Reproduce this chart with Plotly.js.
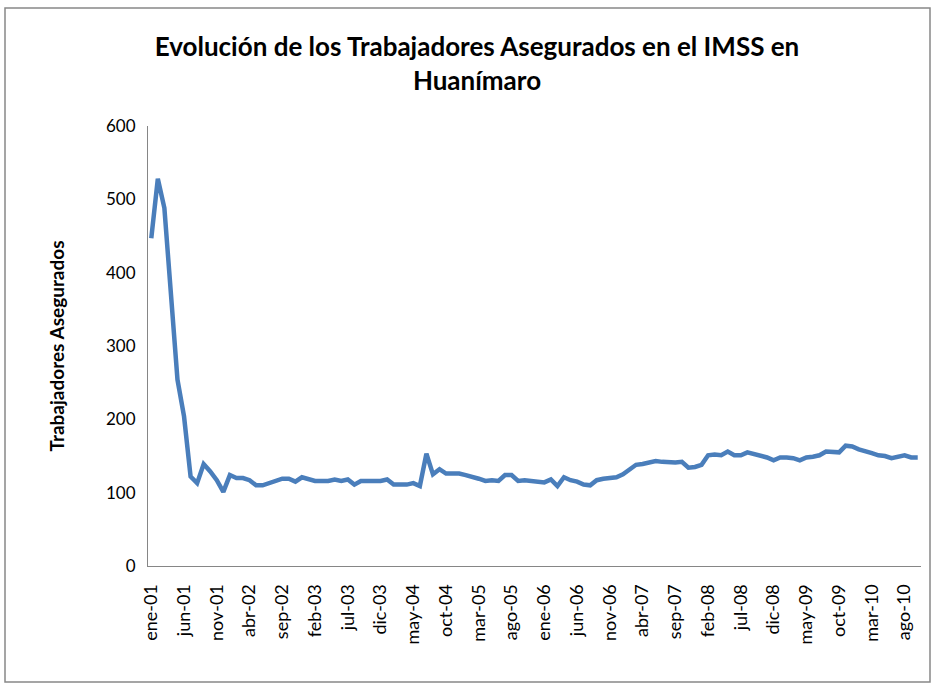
<!DOCTYPE html>
<html>
<head>
<meta charset="utf-8">
<script src="https://cdn.plot.ly/plotly-3.0.1.min.js"></script>
<style>
html,body{margin:0;padding:0;background:#fff;}
#chart{width:936px;height:686px;}
</style>
</head>
<body>
<div id="chart"></div>
<script>
var monthNames = ["ene","feb","mar","abr","may","jun","jul","ago","sep","oct","nov","dic"];
var years = ["01","02","03","04","05","06","07","08","09","10"];
var months = [];
years.forEach(function(y){ monthNames.forEach(function(m){ months.push(m + "-" + y); }); });
months = months.slice(0, 118); // ene-01 .. oct-10

var trabajadores = [
  447, 528, 488, 362, 254, 204, 122, 113, 139, 129,
  117, 101, 124, 120, 120, 117, 110, 110, 113, 116,
  119, 119, 115, 121, 118, 116, 116, 116, 118, 116,
  118, 111, 116, 116, 116, 116, 118, 111, 111, 111,
  113, 109, 153, 125, 132, 126, 126, 126, 124, 122,
  119, 116, 117, 116, 124, 124, 116, 117, 116, 114,
  114, 118, 109, 121, 117, 115, 111, 110, 117, 119,
  120, 121, 125, 132, 138, 139, 141, 143, 142, 141,
  141, 142, 134, 135, 138, 151, 152, 151, 156, 151,
  151, 155, 153, 151, 148, 144, 148, 148, 147, 144,
  148, 149, 151, 156, 155, 155, 164, 163, 159, 157,
  154, 151, 150, 147, 149, 151, 148, 148
];

var tickMonths = months.filter(function(_, i){ return i % 5 === 0; });

var font = "Lato, 'Open Sans', sans-serif";

var trace = {
  x: months,
  y: trabajadores,
  type: "scatter",
  mode: "lines",
  line: {color: "#4A7EBB", width: 4.5},
  hoverinfo: "x+y"
};

var layout = {
  width: 936,
  height: 686,
  margin: {l: 148, r: 15, t: 126, b: 120},
  paper_bgcolor: "#ffffff",
  plot_bgcolor: "#ffffff",
  showlegend: false,
  font: {family: font, color: "#000000", size: 17},
  title: {
    text: "<b>Evolución de los Trabajadores Asegurados en el IMSS en<br>Huanímaro</b>",
    font: {family: font, size: 26, color: "#000000"},
    x: 477/936,
    xanchor: "center",
    xref: "container",
    yref: "container",
    y: 1 - 56/686,
    yanchor: "top"
  },
  xaxis: {
    type: "category",
    range: [-0.5, 117.5],
    tickmode: "array",
    tickvals: tickMonths,
    ticktext: tickMonths,
    tickangle: -90,
    tickfont: {family: font, size: 18, color: "#000"},
    ticklabelstandoff: 10,
    showgrid: false,
    zeroline: false,
    showline: true,
    linecolor: "#868686",
    linewidth: 1,
    ticks: "",
    fixedrange: true
  },
  yaxis: {
    range: [0, 600],
    dtick: 100,
    tick0: 0,
    tickfont: {family: font, size: 17, color: "#000"},
    showgrid: false,
    zeroline: false,
    showline: true,
    linecolor: "#868686",
    linewidth: 1,
    ticks: "",
    ticklabelstandoff: 8,
    title: {
      text: "<b>Trabajadores Asegurados</b>",
      font: {family: font, size: 19, color: "#000"},
      standoff: 36
    },
    fixedrange: true
  },
  shapes: [{
    type: "rect",
    xref: "paper", yref: "paper",
    x0: (5 - 148) / 773, x1: (930 - 148) / 773,
    y0: (566 - 682) / 440, y1: (566 - 8) / 440,
    line: {color: "#888888", width: 1.5},
    fillcolor: "rgba(0,0,0,0)",
    layer: "below"
  }]
};

Plotly.newPlot("chart", [trace], layout, {displayModeBar: false, staticPlot: true});
</script>
</body>
</html>
